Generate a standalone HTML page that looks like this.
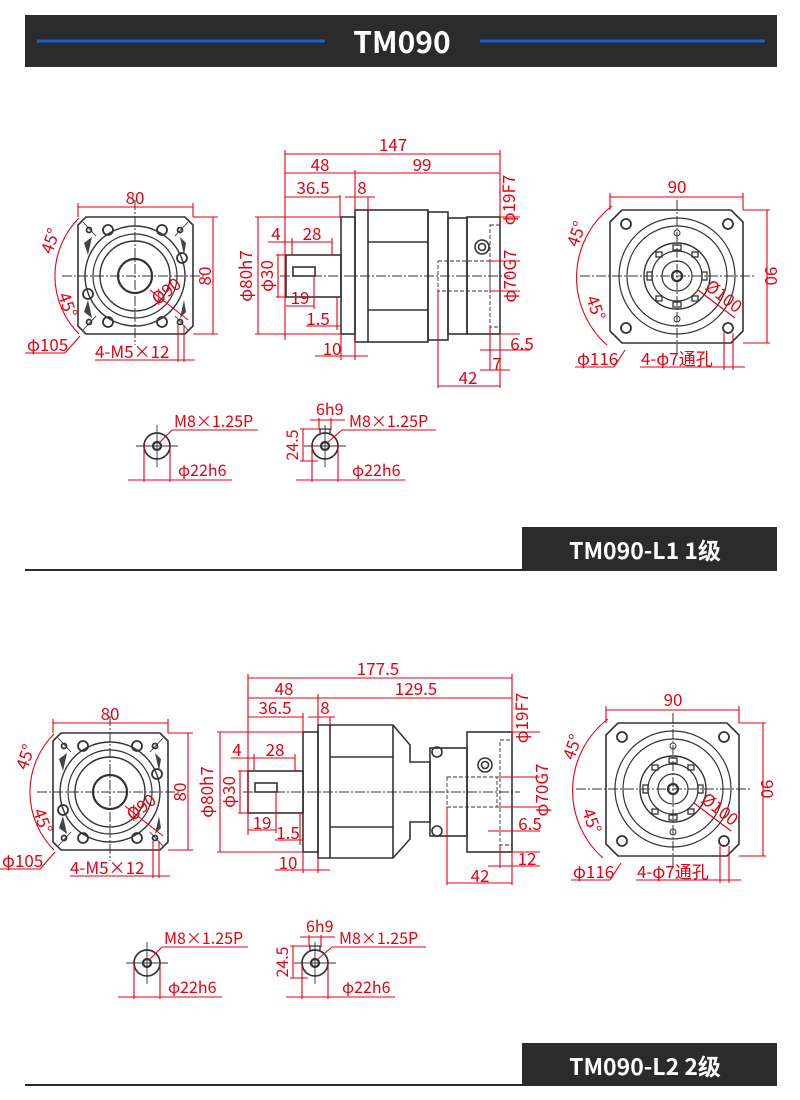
<!DOCTYPE html>
<html><head><meta charset="utf-8"><style>
html,body{margin:0;padding:0;background:#fff;}
svg{display:block;}
text{font-family:"Noto Sans CJK SC","Liberation Sans",sans-serif;}
</style></head><body>
<svg width="800" height="1100" viewBox="0 0 800 1100" xmlns="http://www.w3.org/2000/svg">
<defs>
<g id="front">
  <path d="M86 217 H185 L193 225 V326 L185 334 H86 L78 326 V225 Z" fill="none" stroke="#333" stroke-width="1.6"/>
  <circle cx="135" cy="276" r="50" fill="none" stroke="#333" stroke-width="1.4"/>
  <circle cx="135" cy="276" r="42" fill="none" stroke="#333" stroke-width="1.2"/>
  <circle cx="135" cy="276" r="35" fill="none" stroke="#333" stroke-width="1.4"/>
  <circle cx="135" cy="276" r="17" fill="none" stroke="#333" stroke-width="2.2"/>
  <g fill="none" stroke="#333" stroke-width="1.8">
   <circle cx="108" cy="230" r="5"/><circle cx="162" cy="230" r="5"/>
   <circle cx="108" cy="322" r="5"/><circle cx="162" cy="322" r="5"/>
   <circle cx="88" cy="294" r="5"/><circle cx="182" cy="258" r="5"/>
   <circle cx="89" cy="230" r="2.5"/><circle cx="180" cy="230" r="2.5"/>
   <circle cx="89" cy="322" r="2.5"/><circle cx="180" cy="322" r="2.5"/>
  </g>
  <g stroke="#333" stroke-width="0.9">
   <line x1="83" y1="222" x2="96" y2="236"/><line x1="175" y1="236" x2="188" y2="222"/>
   <line x1="83" y1="330" x2="96" y2="316"/><line x1="175" y1="316" x2="188" y2="330"/>
  </g>
  <path d="M84 243 L92 237 L88 255 Z M84 312 L92 318 L88 300 Z M186 312 L180 318 L184 300 Z M186 243 L180 237 L184 255 Z" fill="#444"/>
  <g stroke="#333" stroke-width="1" stroke-dasharray="10 2 2 2">
   <line x1="62" y1="276" x2="205" y2="276"/><line x1="135" y1="200" x2="135" y2="345"/>
  </g>
  <g stroke="#e60012" stroke-width="1.1" fill="none">
   <line x1="78" y1="207" x2="193" y2="207"/><line x1="78" y1="203" x2="78" y2="217"/><line x1="193" y1="203" x2="193" y2="217"/>
   <line x1="213" y1="217" x2="213" y2="334"/><line x1="193" y1="217" x2="218" y2="217"/><line x1="193" y1="334" x2="218" y2="334"/>
   <path d="M79 218 A82 82 0 0 0 79 334"/>
   <line x1="150" y1="290" x2="188" y2="320"/>
   <line x1="80" y1="336" x2="65" y2="353"/><line x1="25" y1="353" x2="65" y2="353"/>
   <line x1="95" y1="360" x2="175" y2="360"/><line x1="178" y1="325" x2="178" y2="362"/><line x1="184" y1="325" x2="184" y2="362"/><line x1="175" y1="360" x2="195" y2="360"/>
  </g>
  <g fill="#e60012" font-size="17">
   <text x="135" y="204" text-anchor="middle">80</text>
   <text transform="translate(211,276) rotate(-90)" text-anchor="middle">80</text>
   <text transform="translate(56,243) rotate(-70)" text-anchor="middle">45°</text>
   <text transform="translate(62,307) rotate(70)" text-anchor="middle">45°</text>
   <text transform="translate(170,296) rotate(-38)" text-anchor="middle">Ø90</text>
   <text x="27" y="351">φ105</text>
   <text x="95" y="358">4-M5×12</text>
  </g>
</g>
<g id="right">
  <path d="M622 210 H731 L743 222 V331 L731 343 H622 L610 331 V222 Z" fill="none" stroke="#333" stroke-width="1.6"/>
  <g fill="none" stroke="#333">
   <circle cx="677" cy="276" r="58" stroke-width="1.2"/>
   <circle cx="677" cy="276" r="50" stroke-width="1.2"/>
   <circle cx="677" cy="276" r="33" stroke-width="1.4"/>
   <circle cx="677" cy="276" r="25" stroke-width="1.2"/>
   <circle cx="677" cy="276" r="15" stroke-width="1.2"/>
   <circle cx="677" cy="276" r="5" stroke-width="2.2"/>
   <circle cx="626" cy="224" r="5" stroke-width="1.8"/><circle cx="728" cy="224" r="5" stroke-width="1.8"/>
   <circle cx="626" cy="328" r="5" stroke-width="1.8"/><circle cx="728" cy="328" r="5" stroke-width="1.8"/>
   <circle cx="677" cy="233" r="3"/><circle cx="677" cy="319" r="3"/>
  </g>
  <g fill="none" stroke="#333" stroke-width="1.3">
   <rect x="673" y="245" width="8" height="5"/><rect x="673" y="302" width="8" height="5"/>
   <rect x="647" y="272" width="5" height="8"/><rect x="702" y="272" width="5" height="8"/>
   <rect x="656" y="252" width="6" height="5"/><rect x="692" y="252" width="6" height="5"/>
   <rect x="656" y="296" width="6" height="5"/><rect x="692" y="296" width="6" height="5"/>
  </g>
  <g stroke="#333" stroke-width="1" stroke-dasharray="10 2 2 2">
   <line x1="580" y1="276" x2="755" y2="276"/><line x1="677" y1="200" x2="677" y2="355"/>
  </g>
  <g stroke="#e60012" stroke-width="1.1" fill="none">
   <line x1="610" y1="197" x2="743" y2="197"/><line x1="610" y1="193" x2="610" y2="210"/><line x1="743" y1="193" x2="743" y2="210"/>
   <line x1="767" y1="210" x2="767" y2="343"/><line x1="743" y1="210" x2="770" y2="210"/><line x1="743" y1="343" x2="770" y2="343"/>
   <path d="M612 206 A90 90 0 0 0 607 345"/>
   <line x1="698" y1="290" x2="735" y2="318"/>
   <line x1="625" y1="350" x2="614" y2="367"/><line x1="575" y1="367" x2="614" y2="367"/>
   <line x1="640" y1="367" x2="723" y2="367"/><line x1="724" y1="333" x2="724" y2="370"/><line x1="733" y1="333" x2="733" y2="370"/><line x1="723" y1="367" x2="745" y2="367"/>
  </g>
  <g fill="#e60012" font-size="17">
   <text x="677" y="193" text-anchor="middle">90</text>
   <text transform="translate(765,276) rotate(90)" text-anchor="middle">90</text>
   <text transform="translate(582,236) rotate(-70)" text-anchor="middle">45°</text>
   <text transform="translate(590,310) rotate(70)" text-anchor="middle">45°</text>
   <text transform="translate(720,301) rotate(38)" text-anchor="middle">Ø100</text>
   <text x="577" y="365">φ116</text>
   <text x="641" y="365">4-φ7通孔</text>
  </g>
</g>
<g id="small">
  <circle cx="157" cy="446" r="13" fill="none" stroke="#333" stroke-width="1.7"/>
  <circle cx="157" cy="446" r="4" fill="none" stroke="#333" stroke-width="2.2"/>
  <g stroke="#333" stroke-width="0.9"><line x1="136" y1="446" x2="178" y2="446"/><line x1="157" y1="425" x2="157" y2="467"/></g>
  <g stroke="#e60012" fill="none" stroke-width="1.1">
   <line x1="160" y1="442" x2="172" y2="430"/><line x1="172" y1="430" x2="258" y2="430"/>
   <line x1="144" y1="446" x2="144" y2="482"/><line x1="170" y1="446" x2="170" y2="482"/><line x1="128" y1="480" x2="232" y2="480"/>
  </g>
  <g fill="#e60012" font-size="16"><text x="174" y="427">M8×1.25P</text><text x="178" y="476">φ22h6</text></g>

  <circle cx="325" cy="446" r="13" fill="none" stroke="#333" stroke-width="1.7"/>
  <circle cx="325" cy="446" r="4" fill="none" stroke="#333" stroke-width="2.2"/>
  <path d="M320 433 V429 H330 V433" fill="none" stroke="#333" stroke-width="1.3"/>
  <g stroke="#333" stroke-width="0.9"><line x1="304" y1="446" x2="346" y2="446"/><line x1="325" y1="425" x2="325" y2="467"/></g>
  <g stroke="#e60012" fill="none" stroke-width="1.1">
   <line x1="328" y1="442" x2="342" y2="430"/><line x1="342" y1="430" x2="436" y2="430"/>
   <line x1="312" y1="446" x2="312" y2="482"/><line x1="338" y1="446" x2="338" y2="482"/><line x1="296" y1="480" x2="405" y2="480"/>
   <line x1="319" y1="418" x2="319" y2="430"/><line x1="331" y1="418" x2="331" y2="430"/><line x1="310" y1="420" x2="345" y2="420"/>
   <line x1="300" y1="429" x2="318" y2="429"/><line x1="300" y1="461" x2="318" y2="461"/><line x1="303" y1="429" x2="303" y2="461"/>
  </g>
  <g fill="#e60012" font-size="16"><text x="349" y="427">M8×1.25P</text><text x="352" y="476">φ22h6</text><text x="316" y="415">6h9</text>
  <text transform="translate(298,445) rotate(-90)" text-anchor="middle">24.5</text></g>
</g>
</defs>

<rect x="25" y="15" width="752" height="52" fill="#2b2b2b"/>
<line x1="37" y1="41" x2="325" y2="41" stroke="#1a5fd6" stroke-width="3"/>
<line x1="480" y1="41" x2="765" y2="41" stroke="#1a5fd6" stroke-width="3"/>
<text x="402" y="53" fill="#fff" font-size="30" font-weight="bold" text-anchor="middle">TM090</text>

<use href="#front"/>
<use href="#right"/>
<use href="#small"/>

<g fill="none" stroke="#333" stroke-width="1.6">
  <rect x="286" y="255" width="55" height="42"/>
  <rect x="341" y="217" width="14" height="117"/>
  <rect x="355" y="210" width="73" height="132"/>
  <line x1="368" y1="210" x2="368" y2="342"/>
  <line x1="368" y1="242" x2="428" y2="242"/><line x1="368" y1="310" x2="428" y2="310"/>
  <rect x="428" y="212" width="20" height="128"/>
  <rect x="448" y="218" width="19" height="116"/>
  <rect x="467" y="217" width="33" height="117"/>
  <circle cx="482" cy="247" r="7"/><circle cx="482" cy="247" r="3.5"/>
  <rect x="293" y="267" width="22" height="9"/>
</g>
<g stroke="#333" stroke-width="0.9" stroke-dasharray="4 2" fill="none">
  <rect x="438" y="261" width="52" height="30"/><rect x="490" y="225" width="10" height="102"/>
</g>
<line x1="280" y1="276" x2="510" y2="276" stroke="#333" stroke-width="1" stroke-dasharray="10 2 2 2"/>
<g stroke="#e60012" stroke-width="1.1" fill="none">
  <line x1="285" y1="154" x2="500" y2="154"/><line x1="285" y1="150" x2="285" y2="340"/><line x1="500" y1="150" x2="500" y2="225"/>
  <line x1="285" y1="173" x2="500" y2="173"/><line x1="355" y1="170" x2="355" y2="210"/>
  <line x1="285" y1="197" x2="340" y2="197"/><line x1="340" y1="195" x2="340" y2="217"/><line x1="345" y1="197" x2="375" y2="197"/><line x1="368" y1="197" x2="368" y2="210"/>
  <line x1="268" y1="242" x2="310" y2="242"/><line x1="292" y1="238" x2="292" y2="255"/><line x1="332" y1="238" x2="332" y2="255"/><line x1="285" y1="242" x2="332" y2="242"/>
  <line x1="255" y1="217" x2="341" y2="217"/><line x1="255" y1="334" x2="341" y2="334"/><line x1="258" y1="217" x2="258" y2="334"/>
  <line x1="276" y1="255" x2="286" y2="255"/><line x1="276" y1="297" x2="286" y2="297"/><line x1="278" y1="255" x2="278" y2="297"/>
  <line x1="286" y1="306" x2="314" y2="306"/><line x1="314" y1="276" x2="314" y2="309"/>
  <line x1="306" y1="326" x2="341" y2="326"/><line x1="337" y1="297" x2="337" y2="330"/>
  <line x1="315" y1="356" x2="368" y2="356"/><line x1="341" y1="334" x2="341" y2="360"/><line x1="355" y1="340" x2="355" y2="360"/>
  <line x1="500" y1="217" x2="520" y2="217"/><line x1="490" y1="261" x2="520" y2="261"/><line x1="490" y1="291" x2="520" y2="291"/><line x1="500" y1="334" x2="520" y2="334"/>
  <line x1="480" y1="350" x2="530" y2="350"/><line x1="490" y1="327" x2="490" y2="370"/>
  <line x1="480" y1="370" x2="510" y2="370"/>
  <line x1="438" y1="291" x2="438" y2="388"/><line x1="500" y1="334" x2="500" y2="388"/><line x1="438" y1="386" x2="500" y2="386"/>
</g>
<g fill="#e60012" font-size="17">
  <text x="393" y="151" text-anchor="middle">147</text>
  <text x="320" y="171" text-anchor="middle">48</text>
  <text x="422" y="171" text-anchor="middle">99</text>
  <text x="313" y="194" text-anchor="middle">36.5</text>
  <text x="362" y="194" text-anchor="middle">8</text>
  <text x="276" y="240" text-anchor="middle">4</text>
  <text x="312" y="240" text-anchor="middle">28</text>
  <text x="300" y="304" text-anchor="middle">19</text>
  <text x="318" y="325" text-anchor="middle">1.5</text>
  <text x="332" y="355" text-anchor="middle">10</text>
  <text x="522" y="350" text-anchor="middle">6.5</text>
  <text x="497" y="370" text-anchor="middle">7</text>
  <text x="468" y="384" text-anchor="middle">42</text>
  <text transform="translate(252,276) rotate(-90)" text-anchor="middle">φ80h7</text>
  <text transform="translate(273,276) rotate(-90)" text-anchor="middle">φ30</text>
  <text transform="translate(515,200) rotate(-90)" text-anchor="middle">φ19F7</text>
  <text transform="translate(516,276) rotate(-90)" text-anchor="middle">φ70G7</text>
</g>

<rect x="522" y="527" width="255" height="43" fill="#2b2b2b"/>
<line x1="25" y1="570" x2="777" y2="570" stroke="#2b2b2b" stroke-width="2"/>
<text x="645" y="559" fill="#fff" font-size="23" font-weight="bold" text-anchor="middle">TM090-L1  1级</text>

<use href="#front" transform="translate(-25,516)"/>
<use href="#right" transform="translate(-4,513)"/>
<use href="#small" transform="translate(-10,517)"/>

<g fill="none" stroke="#333" stroke-width="1.6">
  <rect x="248" y="771" width="55" height="42"/>
  <rect x="303" y="732" width="15" height="120"/>
  <path d="M318 725 H393 L410 745 V762 H430 V822 H410 V839 L393 858 H318 Z"/>
  <line x1="330" y1="725" x2="330" y2="858"/>
  <line x1="330" y1="757" x2="393" y2="757"/><line x1="330" y1="827" x2="393" y2="827"/>
  <line x1="393" y1="725" x2="393" y2="858"/>
  <rect x="430" y="748" width="37" height="88"/>
  <rect x="432" y="747" width="10" height="10" rx="5"/><rect x="432" y="826" width="10" height="10" rx="5"/>
  <rect x="467" y="732" width="45" height="120"/>
  <circle cx="485" cy="765" r="7"/><circle cx="485" cy="765" r="3.5"/>
  <rect x="255" y="783" width="22" height="9"/>
</g>
<g stroke="#333" stroke-width="0.9" stroke-dasharray="4 2" fill="none">
  <rect x="447" y="777" width="50" height="30"/><rect x="500" y="740" width="12" height="105"/>
</g>
<line x1="243" y1="792" x2="520" y2="792" stroke="#333" stroke-width="1" stroke-dasharray="10 2 2 2"/>
<g stroke="#e60012" stroke-width="1.1" fill="none">
  <line x1="248" y1="678" x2="512" y2="678"/><line x1="248" y1="674" x2="248" y2="835"/><line x1="512" y1="674" x2="512" y2="740"/>
  <line x1="248" y1="698" x2="512" y2="698"/><line x1="318" y1="694" x2="318" y2="725"/>
  <line x1="248" y1="717" x2="303" y2="717"/><line x1="303" y1="713" x2="303" y2="732"/><line x1="308" y1="717" x2="335" y2="717"/><line x1="330" y1="717" x2="330" y2="725"/>
  <line x1="231" y1="758" x2="272" y2="758"/><line x1="254" y1="754" x2="254" y2="771"/><line x1="295" y1="754" x2="295" y2="771"/><line x1="248" y1="758" x2="295" y2="758"/>
  <line x1="217" y1="732" x2="303" y2="732"/><line x1="217" y1="852" x2="303" y2="852"/><line x1="220" y1="732" x2="220" y2="852"/>
  <line x1="238" y1="771" x2="248" y2="771"/><line x1="238" y1="813" x2="248" y2="813"/><line x1="240" y1="771" x2="240" y2="813"/>
  <line x1="248" y1="830" x2="276" y2="830"/><line x1="276" y1="792" x2="276" y2="833"/>
  <line x1="275" y1="840" x2="303" y2="840"/><line x1="300" y1="813" x2="300" y2="845"/>
  <line x1="275" y1="870" x2="330" y2="870"/><line x1="303" y1="852" x2="303" y2="873"/><line x1="318" y1="858" x2="318" y2="873"/>
  <line x1="512" y1="732" x2="540" y2="732"/><line x1="497" y1="777" x2="540" y2="777"/><line x1="497" y1="807" x2="540" y2="807"/><line x1="512" y1="852" x2="540" y2="852"/>
  <line x1="488" y1="831" x2="540" y2="831"/><line x1="500" y1="845" x2="500" y2="868"/>
  <line x1="488" y1="866" x2="540" y2="866"/>
  <line x1="447" y1="807" x2="447" y2="885"/><line x1="512" y1="852" x2="512" y2="885"/><line x1="447" y1="883" x2="512" y2="883"/>
</g>
<g fill="#e60012" font-size="17">
  <text x="378" y="675" text-anchor="middle">177.5</text>
  <text x="284" y="695" text-anchor="middle">48</text>
  <text x="416" y="695" text-anchor="middle">129.5</text>
  <text x="275" y="714" text-anchor="middle">36.5</text>
  <text x="325" y="714" text-anchor="middle">8</text>
  <text x="237" y="756" text-anchor="middle">4</text>
  <text x="275" y="756" text-anchor="middle">28</text>
  <text x="262" y="829" text-anchor="middle">19</text>
  <text x="288" y="839" text-anchor="middle">1.5</text>
  <text x="288" y="869" text-anchor="middle">10</text>
  <text x="530" y="830" text-anchor="middle">6.5</text>
  <text x="527" y="865" text-anchor="middle">12</text>
  <text x="480" y="882" text-anchor="middle">42</text>
  <text transform="translate(213,792) rotate(-90)" text-anchor="middle">φ80h7</text>
  <text transform="translate(235,792) rotate(-90)" text-anchor="middle">φ30</text>
  <text transform="translate(528,718) rotate(-90)" text-anchor="middle">φ19F7</text>
  <text transform="translate(548,790) rotate(-90)" text-anchor="middle">φ70G7</text>
</g>

<rect x="522" y="1043" width="255" height="43" fill="#2b2b2b"/>
<line x1="25" y1="1085" x2="777" y2="1085" stroke="#2b2b2b" stroke-width="2"/>
<text x="645" y="1075" fill="#fff" font-size="23" font-weight="bold" text-anchor="middle">TM090-L2  2级</text>
</svg>
</body></html>
